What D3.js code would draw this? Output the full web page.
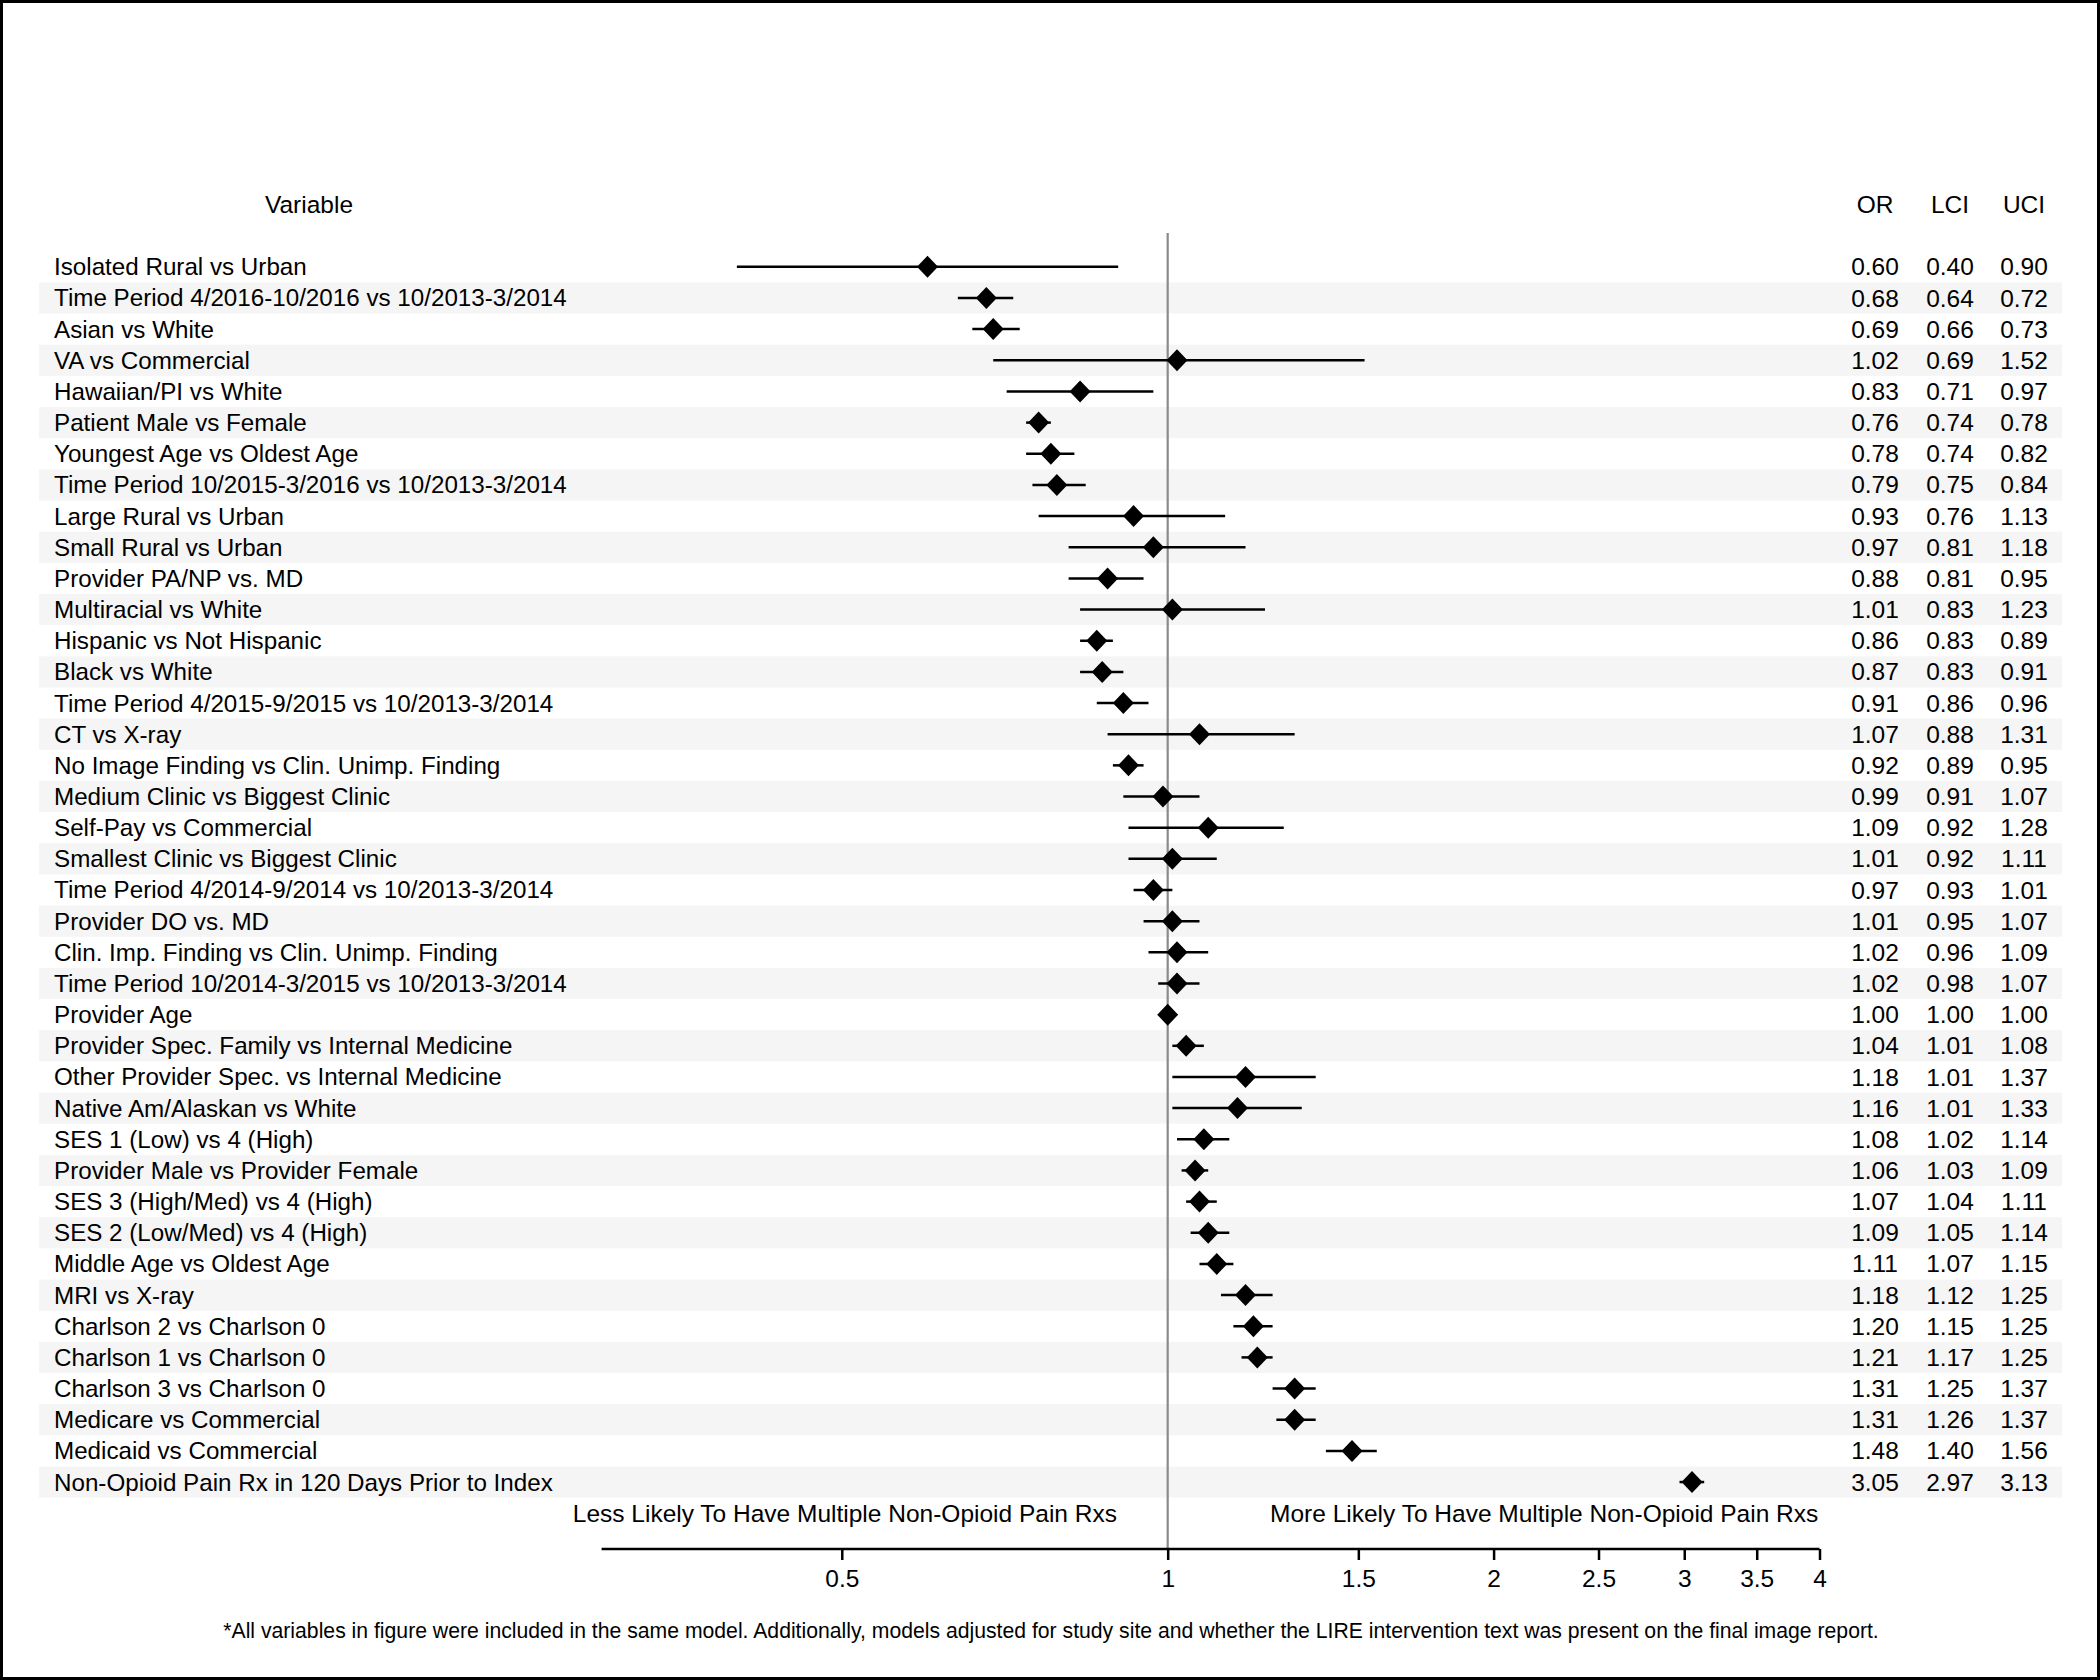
<!DOCTYPE html>
<html>
<head>
<meta charset="utf-8">
<script src="https://cdn.jsdelivr.net/npm/d3@7"></script>
<style>
  html, body { margin: 0; padding: 0; background: #fff; }
  svg { display: block; }
  text { font-family: "Liberation Sans", Arial, Helvetica, sans-serif; fill: #000; }
</style>
</head>
<body>
<svg id="chart" width="2100" height="1680"></svg>
<script>
const labels = [
  "Isolated Rural vs Urban",
  "Time Period 4/2016-10/2016 vs 10/2013-3/2014",
  "Asian vs White",
  "VA vs Commercial",
  "Hawaiian/PI vs White",
  "Patient Male vs Female",
  "Youngest Age vs Oldest Age",
  "Time Period 10/2015-3/2016 vs 10/2013-3/2014",
  "Large Rural vs Urban",
  "Small Rural vs Urban",
  "Provider PA/NP vs. MD",
  "Multiracial vs White",
  "Hispanic vs Not Hispanic",
  "Black vs White",
  "Time Period 4/2015-9/2015 vs 10/2013-3/2014",
  "CT vs X-ray",
  "No Image Finding vs Clin. Unimp. Finding",
  "Medium Clinic vs Biggest Clinic",
  "Self-Pay vs Commercial",
  "Smallest Clinic vs Biggest Clinic",
  "Time Period 4/2014-9/2014 vs 10/2013-3/2014",
  "Provider DO vs. MD",
  "Clin. Imp. Finding vs Clin. Unimp. Finding",
  "Time Period 10/2014-3/2015 vs 10/2013-3/2014",
  "Provider Age",
  "Provider Spec. Family vs Internal Medicine",
  "Other Provider Spec. vs Internal Medicine",
  "Native Am/Alaskan vs White",
  "SES 1 (Low) vs 4 (High)",
  "Provider Male vs Provider Female",
  "SES 3 (High/Med) vs 4 (High)",
  "SES 2 (Low/Med) vs 4 (High)",
  "Middle Age vs Oldest Age",
  "MRI vs X-ray",
  "Charlson 2 vs Charlson 0",
  "Charlson 1 vs Charlson 0",
  "Charlson 3 vs Charlson 0",
  "Medicare vs Commercial",
  "Medicaid vs Commercial",
  "Non-Opioid Pain Rx in 120 Days Prior to Index"
];
const orVals  = [0.60,0.68,0.69,1.02,0.83,0.76,0.78,0.79,0.93,0.97,0.88,1.01,0.86,0.87,0.91,1.07,0.92,0.99,1.09,1.01,0.97,1.01,1.02,1.02,1.00,1.04,1.18,1.16,1.08,1.06,1.07,1.09,1.11,1.18,1.20,1.21,1.31,1.31,1.48,3.05];
const lciVals = [0.40,0.64,0.66,0.69,0.71,0.74,0.74,0.75,0.76,0.81,0.81,0.83,0.83,0.83,0.86,0.88,0.89,0.91,0.92,0.92,0.93,0.95,0.96,0.98,1.00,1.01,1.01,1.01,1.02,1.03,1.04,1.05,1.07,1.12,1.15,1.17,1.25,1.26,1.40,2.97];
const uciVals = [0.90,0.72,0.73,1.52,0.97,0.78,0.82,0.84,1.13,1.18,0.95,1.23,0.89,0.91,0.96,1.31,0.95,1.07,1.28,1.11,1.01,1.07,1.09,1.07,1.00,1.08,1.37,1.33,1.14,1.09,1.11,1.14,1.15,1.25,1.25,1.25,1.37,1.37,1.56,3.13];
const tickValues = [0.5, 1, 1.5, 2, 2.5, 3, 3.5, 4];
const columnHeaders = ["OR", "LCI", "UCI"];
const headerVariable = "Variable";
const leftNote = "Less Likely To Have Multiple Non-Opioid Pain Rxs";
const rightNote = "More Likely To Have Multiple Non-Opioid Pain Rxs";
const footnote = "*All variables in figure were included in the same model. Additionally, models adjusted for study site and whether the LIRE intervention text was present on the final image report.";

const data = labels.map((l, i) => ({label: l, or: orVals[i], lci: lciVals[i], uci: uciVals[i], i}));

const svg = d3.select("#chart");
const W = 2100, H = 1680;

// frame
svg.append("rect").attr("x", 1.5).attr("y", 1.5).attr("width", W - 3).attr("height", H - 3)
  .attr("fill", "#fff").attr("stroke", "#000").attr("stroke-width", 3);

const x = d3.scaleLog().domain([0.3, 4]).range([601.6, 1819.5]);
const rowStep = 31.16;
const y = d3.scaleLinear().domain([0, 1]).range([266.8, 266.8 + rowStep]);

const stripeX0 = 39, stripeX1 = 2062;
const fs = 24.5;
const fsLabel = 24.2;

// stripes
svg.append("g").selectAll("rect").data(data.filter(d => d.i % 2 === 1)).join("rect")
  .attr("x", stripeX0).attr("width", stripeX1 - stripeX0)
  .attr("y", d => y(d.i) - rowStep / 2).attr("height", rowStep)
  .attr("fill", "#f5f5f5");

// reference line at 1
svg.append("line")
  .attr("x1", x(1)).attr("x2", x(1))
  .attr("y1", 233).attr("y2", 1549)
  .attr("stroke", "#8a8a8a").attr("stroke-width", 2.2);

// headers
const headerY = 204;
svg.append("text").attr("x", 309).attr("y", headerY).attr("dy", "0.35em")
  .attr("text-anchor", "middle").attr("font-size", fs).text(headerVariable);
const colX = [1875, 1950, 2024];
svg.append("g").selectAll("text").data(columnHeaders).join("text")
  .attr("x", (d, i) => colX[i]).attr("y", headerY).attr("dy", "0.35em")
  .attr("text-anchor", "middle").attr("font-size", fs).text(d => d);

// labels
svg.append("g").selectAll("text").data(data).join("text")
  .attr("x", 54).attr("y", d => y(d.i)).attr("dy", "0.35em")
  .attr("font-size", fsLabel).text(d => d.label);

// value columns
const fmt = d3.format(".2f");
const cols = [d => d.or, d => d.lci, d => d.uci];
cols.forEach((acc, ci) => {
  svg.append("g").selectAll("text").data(data).join("text")
    .attr("x", colX[ci]).attr("y", d => y(d.i)).attr("dy", "0.35em")
    .attr("text-anchor", "middle").attr("font-size", fs).text(d => fmt(acc(d)));
});

// CI lines
svg.append("g").selectAll("line").data(data.filter(d => d.uci > d.lci)).join("line")
  .attr("x1", d => x(d.lci)).attr("x2", d => x(d.uci))
  .attr("y1", d => y(d.i)).attr("y2", d => y(d.i))
  .attr("stroke", "#000").attr("stroke-width", 2.5);

// diamonds
const hw = 10.5, hh = 11;
svg.append("g").selectAll("path").data(data).join("path")
  .attr("d", d => {
    const cx = x(d.or), cy = y(d.i);
    return `M${cx},${cy - hh}L${cx + hw},${cy}L${cx},${cy + hh}L${cx - hw},${cy}Z`;
  })
  .attr("fill", "#000");

// direction notes
svg.append("text").attr("x", 1117).attr("y", 1513).attr("dy", "0.35em")
  .attr("text-anchor", "end").attr("font-size", fs).text(leftNote);
svg.append("text").attr("x", 1270).attr("y", 1513).attr("dy", "0.35em")
  .attr("text-anchor", "start").attr("font-size", fs).text(rightNote);

// axis
const axis = d3.axisBottom(x).tickValues(tickValues).tickSize(11).tickPadding(10)
  .tickFormat(d => String(d));
const ax = svg.append("g").attr("transform", "translate(0,1549)").call(axis);
ax.select(".domain").attr("stroke", "#000").attr("stroke-width", 2.5)
  .attr("d", `M${x.range()[0]},0H${x.range()[1]}`);
ax.selectAll(".tick line").attr("stroke", "#000").attr("stroke-width", 2.5);
ax.selectAll(".tick text").attr("font-size", fs).attr("font-family", "'Liberation Sans', Arial, sans-serif").attr("fill", "#000");

// footnote
svg.append("text").attr("x", 1051).attr("y", 1631).attr("dy", "0.35em")
  .attr("text-anchor", "middle").attr("font-size", 21.2).text(footnote);
</script>
</body>
</html>
